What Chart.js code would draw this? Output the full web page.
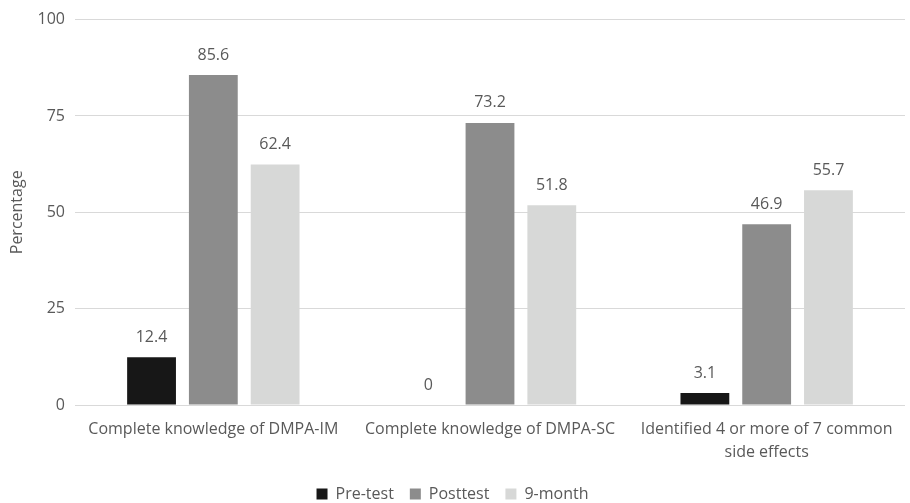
<!DOCTYPE html>
<html>
<head>
<meta charset="utf-8">
<script src="https://cdn.jsdelivr.net/npm/chart.js@4.4.1/dist/chart.umd.min.js"></script>
<style>
  html, body { margin: 0; padding: 0; background: #ffffff; }
  #wrap { width: 910px; height: 503px; position: relative; }
</style>
</head>
<body>
<div id="wrap"><canvas id="knowledgeChart"></canvas></div>
<script>
// dados do gráfico
const categories = [
	'Complete knowledge of DMPA-IM',
	'Complete knowledge of DMPA-SC',
	['Identified 4 or more of 7 common', 'side effects']
];
const seriesNames = ['Pre-test', 'Posttest', '9-month'];
const preTest = [12.4, 0, 3.1];
const postTest = [85.6, 73.2, 46.9];
const nineMonth = [62.4, 51.8, 55.7];
const yTicks = [0, 25, 50, 75, 100];

const colors = {
	pre: '#171717',
	post: '#8c8c8c',
	nine: '#d7d8d7',
	text: '#595959',
	grid: '#d9d9d9'
};
const fontFamily = '"Open Sans", "Noto Sans", sans-serif';

// plugin simples para os rótulos acima das barras
const barLabels = {
	id: 'barLabels',
	afterDatasetsDraw(chart) {
		const ctx = chart.ctx;
		ctx.save();
		ctx.font = '16px ' + fontFamily;
		ctx.fillStyle = colors.text;
		ctx.textAlign = 'center';
		ctx.textBaseline = 'middle';
		chart.data.datasets.forEach((ds, i) => {
			chart.getDatasetMeta(i).data.forEach((bar, j) => {
				ctx.fillText(String(ds.data[j]), bar.x, bar.y - 20);
			});
		});
		ctx.restore();
	}
};

new Chart(document.getElementById('knowledgeChart'), {
	type: 'bar',
	data: {
		labels: categories,
		datasets: [
			{ label: seriesNames[0], data: preTest, backgroundColor: colors.pre },
			{ label: seriesNames[1], data: postTest, backgroundColor: colors.post },
			{ label: seriesNames[2], data: nineMonth, backgroundColor: colors.nine }
		]
	},
	options: {
		responsive: true,
		maintainAspectRatio: false,
		animation: false,
		categoryPercentage: 0.67,
		barPercentage: 0.79,
		layout: { padding: { top: 12, right: 5, left: 0, bottom: -9 } },
		plugins: {
			legend: {
				position: 'bottom',
				labels: {
					boxWidth: 11,
					boxHeight: 11,
					padding: 16,
					color: colors.text,
					font: { family: fontFamily, size: 16 }
				}
			},
			tooltip: { enabled: false }
		},
		scales: {
			x: {
				grid: { display: false },
				border: { display: false },
				afterFit: scale => { scale.height = 65; },
				ticks: {
					color: colors.text,
					font: { family: fontFamily, size: 16, lineHeight: 1.45 },
					maxRotation: 0,
					padding: 5
				}
			},
			y: {
				min: 0,
				max: 100,
				afterBuildTicks: scale => { scale.ticks = yTicks.map(v => ({ value: v })); },
				afterFit: scale => { scale.width = 75; },
				border: { display: false },
				grid: { color: colors.grid, lineWidth: 1, drawTicks: false },
				ticks: {
					color: colors.text,
					font: { family: fontFamily, size: 16 },
					padding: 10
				},
				title: {
					display: true,
					text: 'Percentage',
					color: colors.text,
					font: { family: fontFamily, size: 16 },
					padding: { top: 8, bottom: 0 }
				}
			}
		}
	},
	plugins: [barLabels]
});
</script>
</body>
</html>
